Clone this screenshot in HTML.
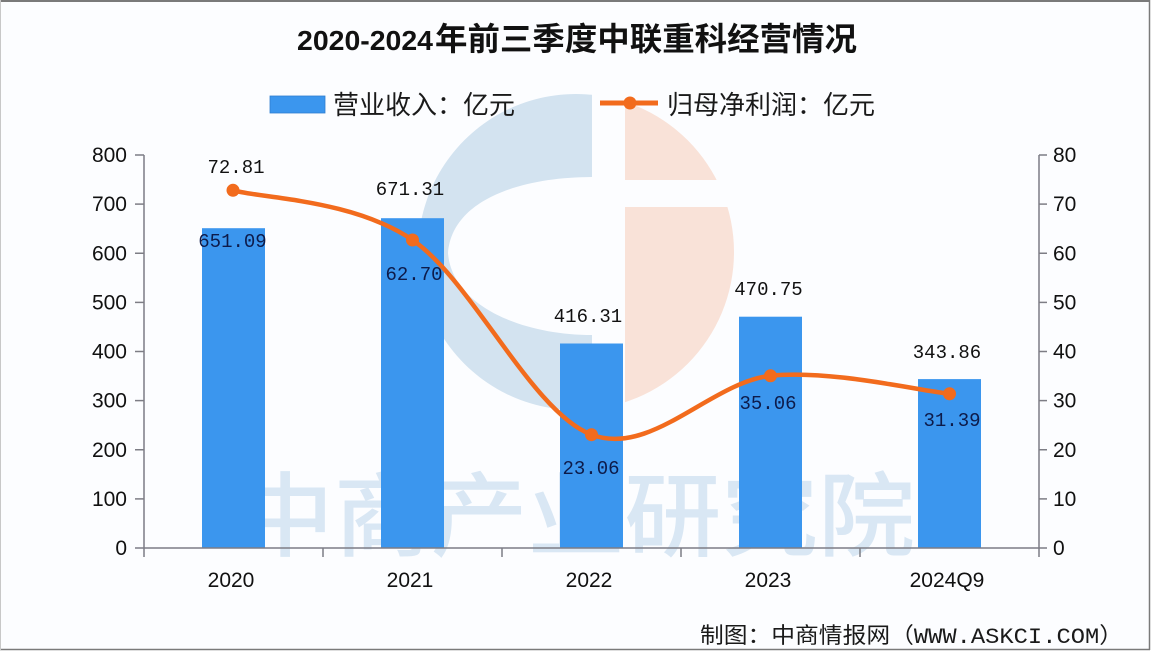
<!DOCTYPE html>
<html>
<head>
<meta charset="utf-8">
<style>
html,body{margin:0;padding:0;background:#fff;}
svg{display:block;}
</style>
</head>
<body>
<svg width="1152" height="652" viewBox="0 0 1152 652" xmlns="http://www.w3.org/2000/svg">
  <rect x="0" y="0" width="1152" height="652" fill="#ffffff"/>
  <rect x="0" y="0" width="1150" height="650" fill="#fcfdff"/>
  <!-- frame -->
  <line x1="0" y1="1" x2="1150" y2="1" stroke="#7a7a7a" stroke-width="2"/>
  <line x1="1149.5" y1="0" x2="1149.5" y2="650" stroke="#7a7a7a" stroke-width="1.5"/>
  <line x1="0" y1="649.5" x2="1150" y2="649.5" stroke="#7a7a7a" stroke-width="1.5"/>
  <line x1="0.5" y1="0" x2="0.5" y2="650" stroke="#c8c8c8" stroke-width="1"/>

  <!-- watermark logo -->
  <defs>
    <clipPath id="leftHalf"><rect x="400" y="80" width="192" height="350"/></clipPath>
    <clipPath id="rightHalf"><rect x="625" y="80" width="130" height="100"/><rect x="625" y="207" width="130" height="220"/></clipPath>
  </defs>
  <path clip-path="url(#leftHalf)" fill="#d3e3f0" fill-rule="evenodd"
        d="M576,94 A158,158 0 1,0 576.01,94 Z M593,177 C520,177 452,200 448,253 C452,305 520,335 593,335 Z"/>
  <circle clip-path="url(#rightHalf)" cx="576" cy="252" r="158" fill="#f9e2d8"/>

  <!-- watermark text -->
  <text x="237" y="549" font-family="'Liberation Sans','Noto Sans CJK SC',sans-serif" font-size="92" font-weight="500" fill="#d9e7f4" textLength="678" lengthAdjust="spacingAndGlyphs">中商产业研究院</text>

  <!-- title -->
  <text x="297" y="50" font-family="'Liberation Sans','Noto Sans CJK SC',sans-serif" font-size="28" font-weight="700" fill="#111" textLength="136" lengthAdjust="spacingAndGlyphs">2020-2024</text>
  <text x="435" y="50" font-family="'Liberation Sans','Noto Sans CJK SC',sans-serif" font-size="32" font-weight="700" fill="#111" textLength="422" lengthAdjust="spacingAndGlyphs">年前三季度中联重科经营情况</text>

  <!-- legend -->
  <rect x="270" y="96" width="55" height="17" fill="#3b96ee" stroke="#2f7fcf" stroke-width="0.8"/>
  <text x="333" y="114" font-family="'Liberation Sans','Noto Sans CJK SC',sans-serif" font-size="26" fill="#1a1a1a" textLength="182" lengthAdjust="spacingAndGlyphs">营业收入：亿元</text>
  <line x1="600" y1="103" x2="658" y2="103" stroke="#f26b1d" stroke-width="5"/>
  <circle cx="630" cy="103" r="6.5" fill="#f26b1d"/>
  <text x="667" y="114" font-family="'Liberation Sans','Noto Sans CJK SC',sans-serif" font-size="26" fill="#1a1a1a" textLength="208" lengthAdjust="spacingAndGlyphs">归母净利润：亿元</text>

  <!-- bars -->
  <g fill="#3b96ee">
    <rect x="202" y="228.2" width="63" height="319.8"/>
    <rect x="381" y="218.2" width="63" height="329.8"/>
    <rect x="560" y="343.5" width="63" height="204.5"/>
    <rect x="739" y="316.7" width="63" height="231.3"/>
    <rect x="918" y="379.1" width="63" height="168.9"/>
  </g>

  <!-- axes -->
  <g stroke="#7d7d85" stroke-width="1.5" fill="none">
    <line x1="144" y1="155" x2="144" y2="557"/>
    <line x1="1039" y1="155" x2="1039" y2="557"/>
    <line x1="135" y1="548" x2="1047" y2="548"/>
    <line x1="323" y1="548" x2="323" y2="557"/>
    <line x1="502" y1="548" x2="502" y2="557"/>
    <line x1="681" y1="548" x2="681" y2="557"/>
    <line x1="860" y1="548" x2="860" y2="557"/>
    <!-- left ticks -->
    <line x1="135" y1="155" x2="144" y2="155"/>
    <line x1="135" y1="204.1" x2="144" y2="204.1"/>
    <line x1="135" y1="253.25" x2="144" y2="253.25"/>
    <line x1="135" y1="302.4" x2="144" y2="302.4"/>
    <line x1="135" y1="351.5" x2="144" y2="351.5"/>
    <line x1="135" y1="400.6" x2="144" y2="400.6"/>
    <line x1="135" y1="449.75" x2="144" y2="449.75"/>
    <line x1="135" y1="498.9" x2="144" y2="498.9"/>
    <!-- right ticks -->
    <line x1="1039" y1="155" x2="1047" y2="155"/>
    <line x1="1039" y1="204.1" x2="1047" y2="204.1"/>
    <line x1="1039" y1="253.25" x2="1047" y2="253.25"/>
    <line x1="1039" y1="302.4" x2="1047" y2="302.4"/>
    <line x1="1039" y1="351.5" x2="1047" y2="351.5"/>
    <line x1="1039" y1="400.6" x2="1047" y2="400.6"/>
    <line x1="1039" y1="449.75" x2="1047" y2="449.75"/>
    <line x1="1039" y1="498.9" x2="1047" y2="498.9"/>
  </g>

  <!-- left tick labels -->
  <g font-family="'Liberation Sans',sans-serif" font-size="21" fill="#111" text-anchor="end">
    <text x="127" y="162">800</text>
    <text x="127" y="211.1">700</text>
    <text x="127" y="260.25">600</text>
    <text x="127" y="309.4">500</text>
    <text x="127" y="358.5">400</text>
    <text x="127" y="407.6">300</text>
    <text x="127" y="456.75">200</text>
    <text x="127" y="505.9">100</text>
    <text x="127" y="555">0</text>
  </g>
  <!-- right tick labels -->
  <g font-family="'Liberation Sans',sans-serif" font-size="21" fill="#111" text-anchor="start">
    <text x="1053" y="162">80</text>
    <text x="1053" y="211.1">70</text>
    <text x="1053" y="260.25">60</text>
    <text x="1053" y="309.4">50</text>
    <text x="1053" y="358.5">40</text>
    <text x="1053" y="407.6">30</text>
    <text x="1053" y="456.75">20</text>
    <text x="1053" y="505.9">10</text>
    <text x="1053" y="555">0</text>
  </g>
  <!-- x labels -->
  <g font-family="'Liberation Sans',sans-serif" font-size="21" fill="#111" text-anchor="middle">
    <text x="231" y="587">2020</text>
    <text x="410" y="587">2021</text>
    <text x="589" y="587">2022</text>
    <text x="768" y="587">2023</text>
    <text x="947" y="587">2024Q9</text>
  </g>

  <!-- line -->
  <path d="M233,190.3 C262.9,198.6 352.75,199.3 412.5,240 C472.25,280.7 531.8,412.1 591.5,434.7 C651.2,457.3 710.8,382.3 770.5,375.8 C829.7,369.3 919.5,390.8 949.5,393.8"
        fill="none" stroke="#f26b1d" stroke-width="4.5" stroke-linecap="round" stroke-linejoin="round"/>
  <g fill="#f26b1d">
    <circle cx="233" cy="190.3" r="6.5"/>
    <circle cx="412.5" cy="240" r="6.5"/>
    <circle cx="591.5" cy="434.7" r="6.5"/>
    <circle cx="770.5" cy="375.8" r="6.5"/>
    <circle cx="949.5" cy="393.8" r="6.5"/>
  </g>

  <!-- data labels -->
  <g font-family="'Liberation Mono',monospace" font-size="19" text-anchor="middle">
    <text x="236" y="173" fill="#111">72.81</text>
    <text x="410" y="195" fill="#111">671.31</text>
    <text x="588" y="322" fill="#111">416.31</text>
    <text x="768.5" y="295" fill="#111">470.75</text>
    <text x="947" y="358" fill="#111">343.86</text>
    <text x="232.5" y="247" fill="#0d1b4a">651.09</text>
    <text x="414" y="280" fill="#0d1b4a">62.70</text>
    <text x="591" y="474" fill="#0d1b4a">23.06</text>
    <text x="768" y="409" fill="#0d1b4a">35.06</text>
    <text x="952" y="426" fill="#0d1b4a">31.39</text>
  </g>

  <!-- source -->
  <text x="700" y="643" font-family="'Liberation Mono','Noto Sans CJK SC',monospace" font-size="22" fill="#1a1a1a" textLength="423" lengthAdjust="spacingAndGlyphs">制图：中商情报网（WWW.ASKCI.COM）</text>
</svg>
</body>
</html>
